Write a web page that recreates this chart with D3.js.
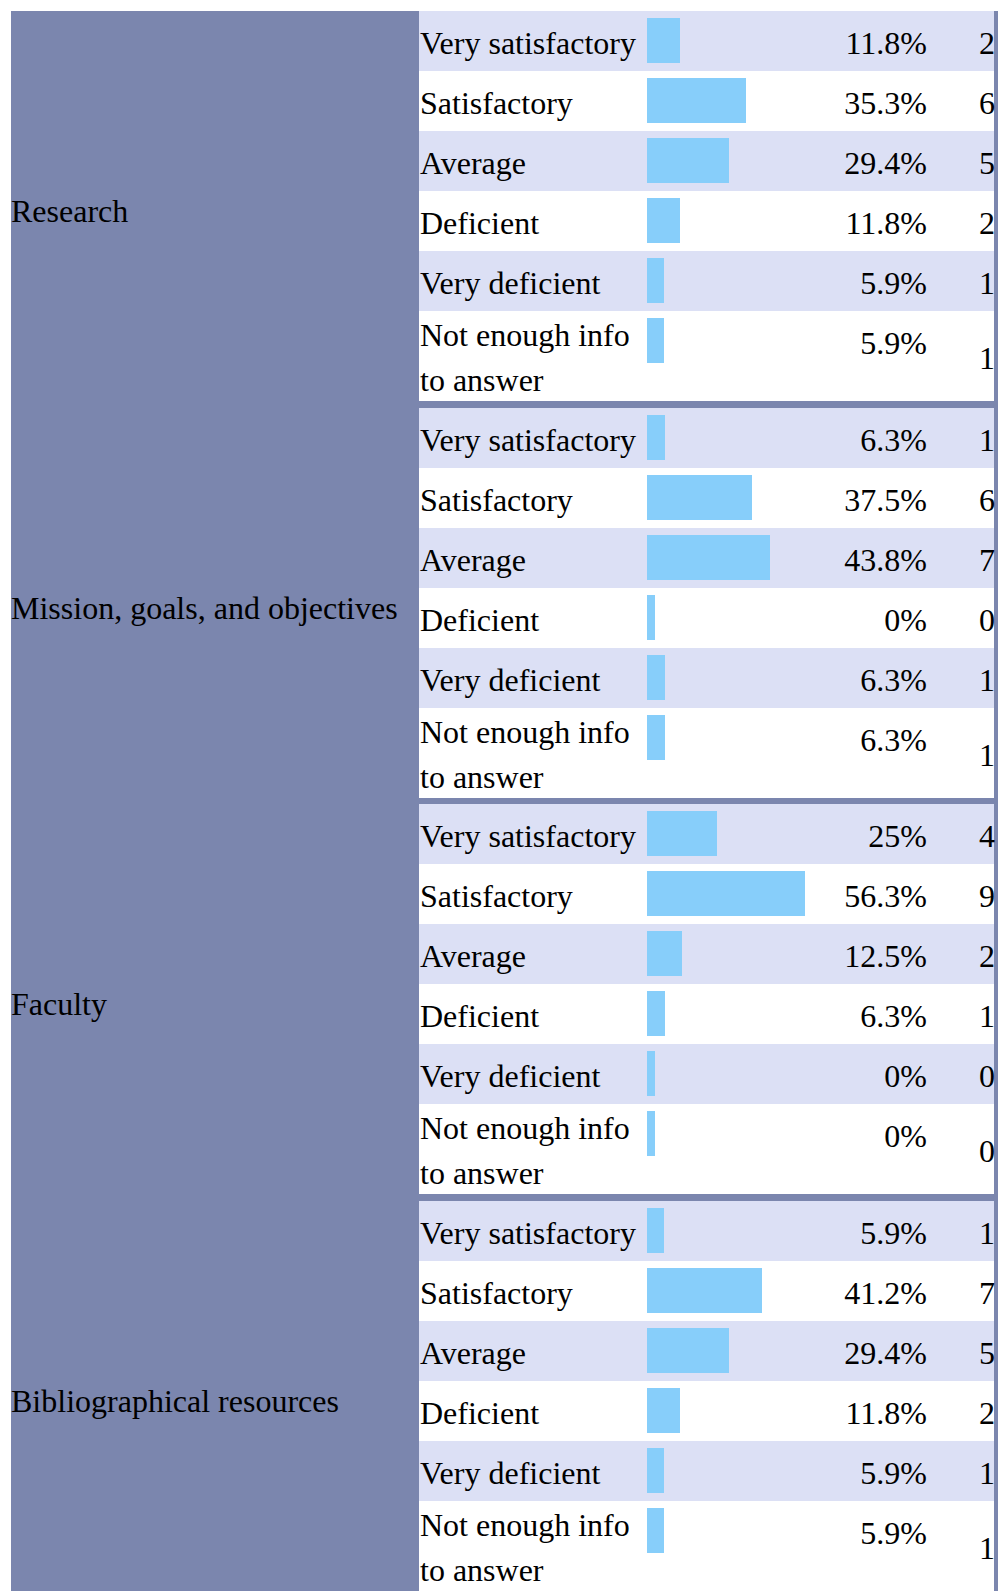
<html>
<head>
<meta charset="utf-8">
<title>Evaluation</title>
<script src="https://d3js.org/d3.v7.min.js"></script>
<style>
  body { margin: 0; background: #fff; }
  text { font-family: "Liberation Serif", "Times New Roman", serif; font-size: 32px; fill: #000; }
  rect { shape-rendering: crispEdges; }
</style>
</head>
<body>
<svg id="chart" width="998" height="1591"></svg>
<script>
// data
const topics = ["Research", "Mission, goals, and objectives", "Faculty", "Bibliographical resources"];
const answers = ["Very satisfactory", "Satisfactory", "Average", "Deficient", "Very deficient", "Not enough info to answer"];
const research = [11.8, 35.3, 29.4, 11.8, 5.9, 5.9];
const researchN = [2, 6, 5, 2, 1, 1];
const mission = [6.3, 37.5, 43.8, 0, 6.3, 6.3];
const missionN = [1, 6, 7, 0, 1, 1];
const faculty = [25, 56.3, 12.5, 6.3, 0, 0];
const facultyN = [4, 9, 2, 1, 0, 0];
const biblio = [5.9, 41.2, 29.4, 11.8, 5.9, 5.9];
const biblioN = [1, 7, 5, 2, 1, 1];

const pcts = [research, mission, faculty, biblio];
const counts = [researchN, missionN, facultyN, biblioN];

// layout
const top0 = 11, left0 = 11, splitX = 419, rightX = 994;
const rowH = 60, lastH = 90, gap = 6.67;
const groupH = rowH * 5 + lastH;
const barX = 647, pctRight = 927, nRight = 995;

const svg = d3.select("#chart");

// purple table background
svg.append("rect")
   .attr("x", left0).attr("y", top0)
   .attr("width", 998 - left0).attr("height", 1591 - top0)
   .attr("fill", "#7b86ae");

const gy = d3.scaleBand()
   .domain(topics)
   .range([top0, top0 + 4 * groupH + 3 * gap])
   .paddingInner(gap / (groupH + gap)).paddingOuter(0).align(0);

const x = d3.scaleLinear().domain([0, 100]).range([0, 280]);

const rowY = i => i * rowH;
const rowHeight = i => i == 5 ? lastH : rowH;

topics.forEach((t, gi) => {
    const g = svg.append("g").attr("transform", `translate(0,${Math.round(gy(t))})`);

    svg.append("text")
       .attr("x", left0)
       .attr("y", gy(t) + groupH / 2 + 16)
       .text(t);

    const rows = g.selectAll("g.row")
       .data(answers.map((a, i) => ({a: a, i: i, p: pcts[gi][i], n: counts[gi][i]})))
       .enter()
       .append("g")
       .attr("class", "row")
       .attr("transform", d => `translate(0,${rowY(d.i)})`);

    rows.append("rect")
        .attr("x", splitX)
        .attr("width", rightX - splitX)
        .attr("height", d => rowHeight(d.i))
        .attr("fill", d => d.i % 2 == 0 ? "#dce0f5" : "#ffffff");

    rows.append("rect")
        .attr("x", barX)
        .attr("y", 7)
        .attr("width", d => Math.max(8, x(d.p)))
        .attr("height", 45)
        .attr("fill", "#87cefa");

    rows.append("text")
        .attr("x", pctRight)
        .attr("y", 43)
        .attr("text-anchor", "end")
        .text(d => d.p + "%");

    rows.append("text")
        .attr("x", nRight)
        .attr("y", d => rowHeight(d.i) / 2 + 13)
        .attr("text-anchor", "end")
        .text(d => d.n);

    // labels, wrapping the long one on two lines
    rows.append("text")
        .attr("x", splitX + 1)
        .attr("y", d => d.i == 5 ? 35 : 43)
        .each(function(d) {
            const el = d3.select(this);
            if (d.i == 5) {
                el.append("tspan").attr("x", splitX + 1).text("Not enough info");
                el.append("tspan").attr("x", splitX + 1).attr("dy", 45).text("to answer");
            } else {
                el.text(d.a);
            }
        });
});
</script>
</body>
</html>
